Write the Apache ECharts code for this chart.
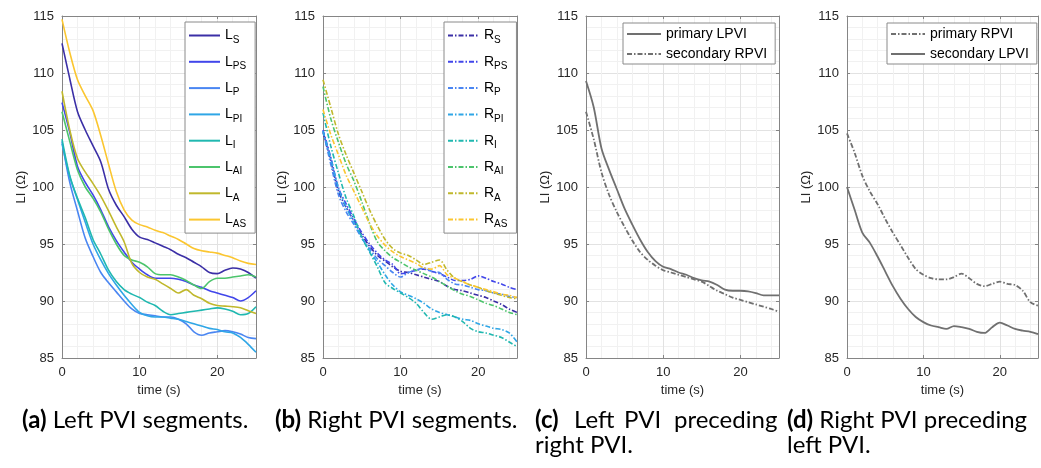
<!DOCTYPE html>
<html><head><meta charset="utf-8">
<script src="https://cdn.jsdelivr.net/npm/echarts@6/dist/echarts.min.js"></script>
<style>html,body{margin:0;padding:0;background:#fff}#c{width:1041px;height:468px}</style>
</head><body><div id="c"></div>
<script>
// ---- data ----
const time = [0,1,2,3,4,5,6,7,8,9,10,11,12,13,14,15,16,17,18,19,20,21,22,23,24,25];
const xTicks = [0,10,20];
const yTicks = [85,90,95,100,105,110,115];

const L_S  = [112.6,109.5,106.6,105.0,103.6,102.2,99.8,98.4,97.4,96.3,95.6,95.4,95.1,94.8,94.5,94.1,93.8,93.4,93.0,92.5,92.4,92.7,92.9,92.8,92.5,92.0];
const L_PS = [107.4,104.8,101.8,100.4,99.3,98.0,96.5,95.3,94.3,93.4,92.8,92.3,92.0,92.0,92.0,91.9,91.7,91.4,91.2,90.9,90.7,90.5,90.3,90.0,90.3,90.9];
const L_P  = [104.0,100.4,97.9,95.5,93.9,92.5,91.6,90.8,90.0,89.3,88.9,88.8,88.7,88.6,88.6,88.4,88.0,87.3,87.0,87.2,87.3,87.4,87.3,87.1,86.8,86.7];
const L_PI = [103.8,100.9,98.9,96.9,95.0,93.6,92.4,91.4,90.5,89.7,89.0,88.7,88.6,88.6,88.5,88.4,88.2,88.0,87.8,87.6,87.5,87.3,87.2,86.8,86.2,85.5];
const L_I  = [104.2,101.0,99.0,97.3,95.4,94.1,92.7,91.7,91.0,90.6,90.3,89.9,89.6,89.1,88.8,88.9,89.0,89.1,89.2,89.3,89.4,89.3,89.1,88.8,88.9,89.5];
const L_AI = [106.6,104.0,101.5,100.0,99.0,97.8,96.3,95.0,94.0,93.6,93.4,93.0,92.4,92.3,92.3,92.1,91.8,91.4,91.1,91.7,92.0,92.0,92.1,92.2,92.3,92.1];
const L_A  = [108.4,105.0,102.5,101.3,100.3,99.2,97.9,96.5,95.2,93.3,92.5,92.1,91.9,91.5,91.1,90.7,91.0,90.5,90.2,89.8,89.6,89.55,89.5,89.4,89.15,88.9];
const L_AS = [114.7,111.8,109.4,108.0,106.7,104.5,102.0,99.6,98.0,97.1,96.7,96.5,96.2,96.0,95.7,95.4,95.0,94.6,94.4,94.3,94.2,94.0,93.8,93.5,93.3,93.2];

const R_S  = [104.8,102.3,99.6,98.2,97.0,95.8,94.8,94.0,93.5,93.0,92.6,92.5,92.3,92.1,91.9,91.7,91.3,91.0,90.9,90.7,90.5,90.3,90.0,89.7,89.3,89.0];
const R_PS = [105.0,102.6,99.9,98.5,97.2,96.0,95.0,94.2,93.6,93.2,92.4,92.5,92.7,92.8,92.6,92.4,92.1,91.8,91.8,91.9,92.2,92.0,91.7,91.5,91.2,91.0];
const R_P  = [104.9,102.0,99.3,97.8,96.7,95.5,94.6,93.7,93.1,92.5,92.1,92.5,92.7,92.9,92.6,92.5,91.9,91.5,91.4,91.2,91.0,90.9,90.7,90.6,90.4,90.3];
const R_PI = [104.9,102.5,99.9,98.2,96.9,95.6,94.4,93.4,92.3,91.4,90.8,90.5,90.2,89.8,89.3,89.0,88.8,88.6,88.4,88.3,88.0,87.8,87.6,87.5,87.2,86.4];
const R_I  = [106.5,103.6,101.2,99.0,97.4,95.6,94.3,93.0,91.6,91.1,90.7,90.3,89.8,89.0,88.4,88.6,88.8,88.6,88.2,87.6,87.3,87.2,87.0,86.8,86.4,86.0];
const R_AI = [108.8,106.0,103.9,102.0,100.5,98.7,96.8,95.2,94.4,93.8,93.4,93.0,92.7,92.4,92.1,91.7,91.3,90.9,90.6,90.4,90.1,89.8,89.6,89.3,89.0,88.8];
const R_A  = [109.4,107.0,104.6,102.8,101.2,99.6,98.0,96.6,95.4,94.6,94.2,94.0,93.6,93.2,93.4,93.6,92.7,92.0,91.7,91.4,91.2,90.9,90.7,90.5,90.3,90.2];
const R_AS = [106.8,104.6,102.8,101.0,99.6,98.2,96.8,95.7,94.9,94.3,93.9,93.6,93.3,92.9,92.8,93.1,92.3,92.0,91.7,91.4,91.2,91.0,90.8,90.6,90.5,90.3];

const primaryLPVI_c   = [109.3,107.0,103.4,101.5,99.8,98.1,96.7,95.4,94.3,93.5,93.0,92.8,92.5,92.3,92.0,91.8,91.7,91.4,91.0,90.9,90.9,90.85,90.7,90.5,90.5,90.5];
const secondaryRPVI_c = [106.6,104.2,101.3,99.3,97.8,96.5,95.3,94.3,93.6,93.1,92.7,92.5,92.3,92.1,91.9,91.7,91.3,90.9,90.6,90.3,90.1,89.9,89.7,89.5,89.3,89.05];
const primaryRPVI_d   = [104.7,103.0,101.0,99.6,98.5,97.2,96.0,94.9,93.8,92.8,92.3,92.0,91.9,91.9,92.1,92.4,92.0,91.5,91.3,91.5,91.7,91.5,91.4,90.9,89.9,89.6];
const secondaryLPVI_d = [100.0,98.0,96.0,95.1,93.9,92.6,91.3,90.2,89.3,88.6,88.15,87.85,87.7,87.55,87.8,87.7,87.55,87.3,87.2,87.7,88.1,87.85,87.55,87.4,87.3,87.1];

const segNames = ['S','PS','P','PI','I','AI','A','AS'];
const leftSeries  = [L_S,L_PS,L_P,L_PI,L_I,L_AI,L_A,L_AS];
const rightSeries = [R_S,R_PS,R_P,R_PI,R_I,R_AI,R_A,R_AS];

// ---- styles ----
const palette = ['#3b2fa6','#4146ea','#4a86f2','#2fa6e6','#20b8b0','#4cc46c','#c0b82c','#fbc630'];
const GRAY = '#707070';
const AX = '#858585', MAJ = '#e2e2e2', MIN = '#f1f1f1', TXT = '#262626';
const DASHDOT = [5,2,1.5,2];
const FONT = 'Liberation Sans';
const SMOOTH = 0.3;

const grids = [
  {left:62, top:16, width:194, height:342},
  {left:323, top:16, width:194, height:342},
  {left:586, top:16, width:193, height:342},
  {left:847, top:16, width:192, height:342}
];

const xAxes = [], yAxes = [], series = [], legends = [];
const mainX = [], mainY = [];
grids.forEach((g, i) => {
  xAxes.push({gridIndex:i, type:'value', min:0, max:25, interval:2, position:'bottom',
    axisLine:{show:false}, axisTick:{show:false}, axisLabel:{show:false},
    splitLine:{show:true, lineStyle:{color:MIN, width:1}}});
  mainX.push(xAxes.length);
  xAxes.push({gridIndex:i, type:'value', min:0, max:25, interval:10, position:'bottom',
    axisLine:{show:true, onZero:false, lineStyle:{color:AX, width:1}},
    axisTick:{show:true, inside:true, length:3, lineStyle:{color:AX}},
    axisLabel:{color:TXT, fontSize:13, fontFamily:FONT, margin:8,
      formatter: v => xTicks.includes(v) ? String(v) : ''},
    splitLine:{show:true, lineStyle:{color:MAJ, width:1}},
    name:'time (s)', nameLocation:'middle', nameGap:25,
    nameTextStyle:{color:TXT, fontSize:13, fontFamily:FONT}});
  xAxes.push({gridIndex:i, type:'value', min:0, max:25, interval:10, position:'top',
    axisLine:{show:true, onZero:false, lineStyle:{color:AX, width:1}},
    axisTick:{show:true, inside:true, length:3, lineStyle:{color:AX}},
    axisLabel:{show:false}, splitLine:{show:false}});
  mainY.push(yAxes.length);
  yAxes.push({gridIndex:i, type:'value', min:85, max:115, interval:5, position:'left',
    axisLine:{show:true, onZero:false, lineStyle:{color:AX, width:1}},
    axisTick:{show:true, inside:true, length:3, lineStyle:{color:AX}},
    axisLabel:{color:TXT, fontSize:13, fontFamily:FONT, margin:8,
      formatter: v => yTicks.includes(v) ? String(v) : ''},
    splitLine:{show:true, lineStyle:{color:MAJ, width:1}},
    minorTick:{show:false, splitNumber:5},
    minorSplitLine:{show:true, lineStyle:{color:MIN, width:1}},
    name:'LI (Ω)', nameLocation:'middle', nameGap:34, nameRotate:90,
    nameTextStyle:{color:TXT, fontSize:13, fontFamily:FONT}});
  yAxes.push({gridIndex:i, type:'value', min:85, max:115, interval:5, position:'right',
    axisLine:{show:true, onZero:false, lineStyle:{color:AX, width:1}},
    axisTick:{show:true, inside:true, length:3, lineStyle:{color:AX}},
    axisLabel:{show:false}, splitLine:{show:false}});
});

function addSeries(panel, name, values, color, type, width) {
  series.push({type:'line', name, xAxisIndex:mainX[panel], yAxisIndex:mainY[panel],
    data: time.map((t,k) => [t, values[k]]), symbol:'none', showSymbol:false, smooth:SMOOTH,
    lineStyle:{color, width, type}, itemStyle:{color}, z:5, animation:false});
}
segNames.forEach((s,k) => addSeries(0, 'L_' + s, leftSeries[k], palette[k], 'solid', 1.6));
segNames.forEach((s,k) => addSeries(1, 'R_' + s, rightSeries[k], palette[k], DASHDOT, 1.6));
addSeries(2, 'primary LPVI', primaryLPVI_c, GRAY, 'solid', 1.8);
addSeries(2, 'secondary RPVI', secondaryRPVI_c, GRAY, DASHDOT, 1.8);
addSeries(3, 'primary RPVI', primaryRPVI_d, GRAY, DASHDOT, 1.8);
addSeries(3, 'secondary LPVI', secondaryLPVI_d, GRAY, 'solid', 1.8);

const hiddenMarker = {color:'rgba(0,0,0,0)', borderWidth:0, opacity:0};
const subRich = {
  m:{fontSize:14, fontFamily:FONT, color:'#000', lineHeight:21},
  s:{fontSize:10, fontFamily:FONT, color:'#000', lineHeight:12, padding:[9,0,0,0]}
};
function segLegend(prefix, left) {
  return {orient:'vertical', left, top:22, data: segNames.map(s => prefix + '_' + s),
    itemWidth:31, itemHeight:14, itemGap:7.3, padding:[4,9,4,3],
    borderColor:'#8a8a8a', borderWidth:1, backgroundColor:'#fff',
    selectedMode:false, itemStyle:hiddenMarker,
    formatter: n => '{m|' + n.split('_')[0] + '}{s|' + n.split('_')[1] + '}',
    textStyle:{rich:subRich}};
}
legends.push(segLegend('L', 185));
legends.push(segLegend('R', 444));
function pairLegend(names, left) {
  return {orient:'vertical', left, top:23, data:names,
    itemWidth:34, itemHeight:14, itemGap:4, padding:[3,8,2,3],
    borderColor:'#8a8a8a', borderWidth:1, backgroundColor:'#fff', selectedMode:false,
    itemStyle:hiddenMarker,
    textStyle:{fontSize:14, fontFamily:FONT, color:'#000', lineHeight:16}};
}
legends.push(pairLegend(['primary LPVI','secondary RPVI'], 623));
legends.push(pairLegend(['primary RPVI','secondary LPVI'], 887));

const CS = 24;
const rich = {b:{fontFamily:'Lato', fontSize:CS, fontWeight:'bold', fill:'#000', color:'#000'},
              r:{fontFamily:'Lato', fontSize:CS, fill:'#000', color:'#000'}};
function cap(x, y, txt) {
  return {type:'text', x, y, style:{text:txt, rich, font:CS + 'px Lato', fill:'#000', verticalAlign:'middle'}};
}
function word(x, y, txt, bold) {
  return {type:'text', x, y, style:{text:txt, font:(bold?'bold ':'') + CS + 'px Lato', fill:'#000', verticalAlign:'middle'}};
}
const graphics = [
  cap(22, 420, '{b|(a)}{r| Left PVI segments.}'),
  cap(275, 420, '{b|(b)}{r| Right PVI segments.}'),
  word(535, 420, '(c)', true), word(574, 420, 'Left'), word(624, 420, 'PVI'), word(674, 420, 'preceding'),
  word(535, 445, 'right PVI.'),
  cap(787, 420, '{b|(d)}{r| Right PVI preceding}'),
  word(787, 445, 'left PVI.')
];

const chart = echarts.init(document.getElementById('c'), null, {renderer:'canvas'});
chart.setOption({
  animation:false,
  backgroundColor:'#fff',
  grid: grids,
  xAxis: xAxes,
  yAxis: yAxes,
  legend: legends,
  series,
  graphic: graphics
});
</script>
</body></html>
